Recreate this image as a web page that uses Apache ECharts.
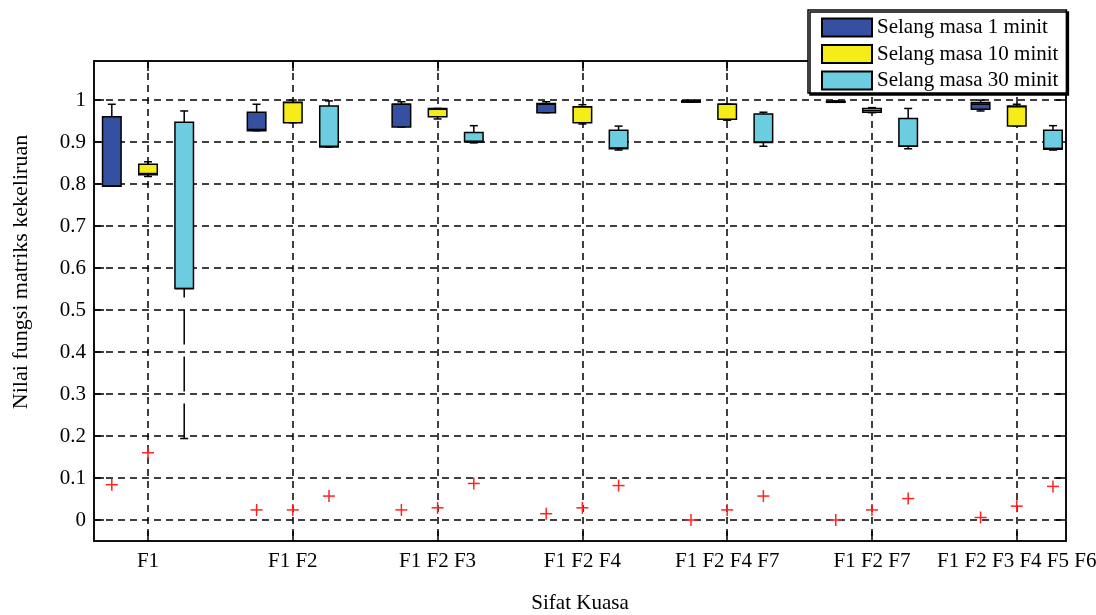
<!DOCTYPE html>
<html><head><meta charset="utf-8">
<script src="https://cdn.jsdelivr.net/npm/echarts@6/dist/echarts.min.js"></script>
<style>html,body{margin:0;padding:0;background:#fff}#c{width:1096px;height:615px}</style>
</head><body><div id="c"></div><script>
const categories = ['F1', 'F1 F2', 'F1 F2 F3', 'F1 F2 F4', 'F1 F2 F4 F7', 'F1 F2 F7', 'F1 F2 F3 F4 F5 F6'];
const seriesNames = ['Selang masa 1 minit', 'Selang masa 10 minit', 'Selang masa 30 minit'];
const yTicks = [0, 0.1, 0.2, 0.3, 0.4, 0.5, 0.6, 0.7, 0.8, 0.9, 1];
const xTicks = [1, 2, 3, 4, 5, 6, 7];
// [min, q1, median, q3, max] per category
const box1 = [
  [0.795, 0.795, 0.795, 0.960, 0.990],
  [0.927, 0.927, 0.930, 0.971, 0.990],
  [0.936, 0.936, 0.990, 0.990, 0.996],
  [0.970, 0.970, 0.990, 0.992, 0.996],
  [0.995, 0.995, 0.997, 0.998, 1.000],
  [0.995, 0.995, 0.996, 0.997, 0.998],
  [0.974, 0.978, 0.990, 0.994, 1.000]
];
const box2 = [
  [0.818, 0.822, 0.825, 0.847, 0.853],
  [0.946, 0.946, 0.994, 0.995, 1.000],
  [0.955, 0.960, 0.978, 0.980, 0.980],
  [0.943, 0.946, 0.984, 0.984, 0.989],
  [0.952, 0.954, 0.990, 0.990, 0.990],
  [0.970, 0.971, 0.975, 0.980, 0.982],
  [0.938, 0.938, 0.984, 0.986, 0.990]
];
const box3 = [
  [0.194, 0.551, 0.551, 0.947, 0.974],
  [0.888, 0.888, 0.890, 0.986, 0.998],
  [0.898, 0.900, 0.902, 0.923, 0.939],
  [0.881, 0.884, 0.886, 0.928, 0.938],
  [0.890, 0.899, 0.900, 0.967, 0.971],
  [0.884, 0.890, 0.890, 0.956, 0.980],
  [0.881, 0.883, 0.885, 0.928, 0.939]
];
// outliers per category
const out1 = [0.084, 0.024, 0.024, 0.015, 0.000, 0.000, 0.006];
const out2 = [0.160, 0.024, 0.029, 0.029, 0.024, 0.024, 0.033];
const out3 = [null, 0.057, 0.087, 0.082, 0.057, 0.051, 0.080];

const colors = ['#3550a0', '#f6ec17', '#6ccde0'];
const offsets = [-0.25, 0, 0.25];
const boxes = [box1, box2, box3];
const outs = [out1, out2, out3];
const FONT = 'Liberation Serif';

function boxRender(params, api) {
  const x = api.value(0);
  const pMin = api.coord([x, api.value(1)]);
  const pQ1 = api.coord([x, api.value(2)]);
  const pMed = api.coord([x, api.value(3)]);
  const pQ3 = api.coord([x, api.value(4)]);
  const pMax = api.coord([x, api.value(5)]);
  const hw = api.size([0.128, 0])[0] / 2;
  const cap = 4;
  const cx = pQ1[0];
  const fill = api.visual('color');
  const wStyle = { stroke: '#000', lineWidth: 1.5, lineDash: [35, 12] };
  const sStyle = { stroke: '#000', lineWidth: 1.5 };
  return {
    type: 'group',
    children: [
      { type: 'line', shape: { x1: cx, y1: pMax[1], x2: cx, y2: pQ3[1] }, style: wStyle },
      { type: 'line', shape: { x1: cx, y1: pMin[1], x2: cx, y2: pQ1[1] }, style: wStyle },
      { type: 'line', shape: { x1: cx - cap, y1: pMax[1], x2: cx + cap, y2: pMax[1] }, style: sStyle },
      { type: 'line', shape: { x1: cx - cap, y1: pMin[1], x2: cx + cap, y2: pMin[1] }, style: sStyle },
      { type: 'rect', shape: { x: cx - hw, y: pQ3[1], width: hw * 2, height: Math.max(pQ1[1] - pQ3[1], 1) },
        style: { fill: fill, stroke: '#000', lineWidth: 1.5 } },
      { type: 'line', shape: { x1: cx - hw, y1: pMed[1], x2: cx + hw, y2: pMed[1] }, style: { stroke: '#000', lineWidth: 1.5 } }
    ]
  };
}
function outRender(params, api) {
  const p = api.coord([api.value(0), api.value(1)]);
  const s = 6;
  const st = { stroke: '#ff2222', lineWidth: 1.5 };
  return {
    type: 'group',
    children: [
      { type: 'line', shape: { x1: p[0] - s, y1: p[1], x2: p[0] + s, y2: p[1] }, style: st },
      { type: 'line', shape: { x1: p[0], y1: p[1] - s, x2: p[0], y2: p[1] + s }, style: st }
    ]
  };
}

const series = [];
boxes.forEach((b, k) => {
  series.push({
    name: seriesNames[k], type: 'custom', renderItem: boxRender,
    itemStyle: { color: colors[k], borderColor: '#000', borderWidth: 1.5 },
    encode: { x: 0, y: [1, 2, 3, 4, 5] },
    data: b.map((d, i) => [xTicks[i] + offsets[k]].concat(d)), z: 3
  });
});
outs.forEach((o, k) => {
  series.push({
    type: 'custom', renderItem: outRender, z: 4,
    encode: { x: 0, y: 1 },
    data: o.map((v, i) => [xTicks[i] + offsets[k], v]).filter(d => d[1] !== null)
  });
});

const gridLine = { show: true, lineStyle: { color: '#000', width: 1.5, type: [7, 5] } };
const axLine = { show: true, onZero: false, lineStyle: { color: '#000', width: 1.5 } };
const xMin = 0.627, xMax = 7.34, yMin = -0.05, yMax = 1.093;

const chart = echarts.init(document.getElementById('c'));
chart.setOption({
  animation: false,
  backgroundColor: '#fff',
  grid: { left: 94, right: 30, top: 61, bottom: 74, show: true, borderColor: '#000', borderWidth: 1.5,
    outerBoundsMode: 'none', containLabel: false },
  legend: {
    orient: 'vertical', left: 808, top: 10,
    padding: [7, 8, 2, 13], itemGap: 5.5, itemWidth: 50, itemHeight: 18,
    backgroundColor: '#fff', borderColor: '#000', borderWidth: 1.5,
    shadowColor: '#000', shadowOffsetX: 2, shadowOffsetY: 2, shadowBlur: 0,
    textStyle: { fontFamily: FONT, fontSize: 21, color: '#000' },
    data: seriesNames.map(n => ({ name: n, icon: 'rect' }))
  },
  xAxis: [{
    type: 'value', min: xMin, max: xMax, position: 'bottom',
    name: 'Sifat Kuasa', nameLocation: 'middle', nameGap: 52,
    nameTextStyle: { fontFamily: FONT, fontSize: 21, color: '#000' },
    axisLine: axLine,
    axisTick: { show: true, inside: true, length: 10, customValues: xTicks, lineStyle: { color: '#000', width: 1.5 } },
    axisLabel: { customValues: xTicks, margin: 10, fontFamily: FONT, fontSize: 21, color: '#000',
      formatter: v => categories[Math.round(v) - 1] },
    splitLine: gridLine
  }, {
    type: 'value', min: xMin, max: xMax, position: 'top',
    axisLine: axLine,
    axisTick: { show: true, inside: true, length: 10, customValues: xTicks, lineStyle: { color: '#000', width: 1.5 } },
    axisLabel: { show: false }, splitLine: { show: false }
  }],
  yAxis: [{
    type: 'value', min: yMin, max: yMax, position: 'left',
    name: 'Nilai fungsi matriks kekeliruan', nameLocation: 'middle', nameGap: 62,
    nameTextStyle: { fontFamily: FONT, fontSize: 22, color: '#000', padding: [0, 0, 0, 58] },
    axisLine: axLine,
    axisTick: { show: true, inside: true, length: 10, customValues: yTicks, lineStyle: { color: '#000', width: 1.5 } },
    axisLabel: { customValues: yTicks, margin: 8, fontFamily: FONT, fontSize: 21, color: '#000' },
    splitLine: gridLine
  }, {
    type: 'value', min: yMin, max: yMax, position: 'right',
    axisLine: axLine,
    axisTick: { show: true, inside: true, length: 10, customValues: yTicks, lineStyle: { color: '#000', width: 1.5 } },
    axisLabel: { show: false }, splitLine: { show: false }
  }],
  series: series
});
</script></body></html>
